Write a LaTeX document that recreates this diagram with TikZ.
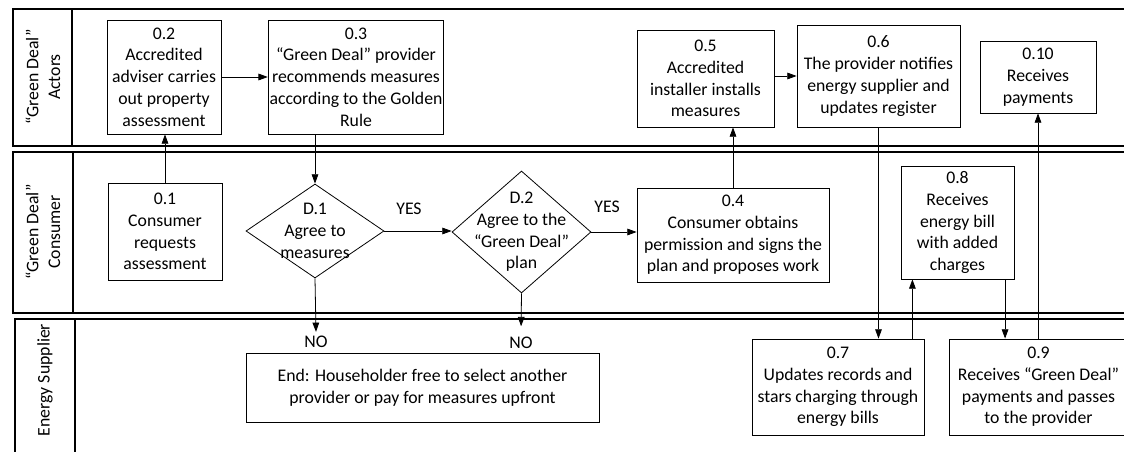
\documentclass[tikz,border=0pt]{standalone}
\usepackage{fontspec}
\setmainfont{Carlito}
\usetikzlibrary{shapes.geometric,arrows.meta}

\tikzset{
  lane/.style={line width=1.2pt},
  box/.style={draw, line width=0.6pt, align=center, inner sep=1pt},
  decision/.style={draw, diamond, line width=0.6pt, inner sep=0pt},
  flow/.style={->, line width=0.6pt},
}

\begin{document}
\begin{tikzpicture}[x=0.75pt, y=-0.75pt, >={Triangle[length=7pt,width=5pt]},
    every node/.append style={font=\fontsize{13.3}{16.3}\selectfont}]
    \useasboundingbox (0,0) rectangle (1124,452);

    % swimlanes
    \draw[lane] (13,9) rectangle (1140,146) (72,9) -- (72,146);
    \draw[lane] (13,152) rectangle (1140,313) (73,152) -- (73,313);
    \draw[lane] (15,319) rectangle (1140,470) (75,319) -- (75,470);
    \node[rotate=90, align=center] (actors) at (43,77) {“Green Deal”\\Actors};
    \node[rotate=90, align=center] (consumer) at (43,232) {“Green Deal”\\Consumer};
    \node[rotate=90] (supplier) at (45,380) {Energy Supplier};

    % steps
    \node[box, minimum width=85.5pt, minimum height=72.75pt] (n01) at (165,231.5) {0.1\\Consumer\\requests\\assessment};
    \node[box, minimum width=85.5pt, minimum height=85.5pt] (n02) at (164,77) {0.2\\Accredited\\adviser carries\\out property\\assessment};
    \node[box, minimum width=130.5pt, minimum height=85.5pt] (n03) at (356,77) {0.3\\“Green Deal” provider\\recommends measures\\according to the Golden\\Rule};
    \node[decision, minimum width=103.5pt, minimum height=70.5pt,
      label={[align=center]center:{D.1\\Agree to\\measures}}] (d1) at (315,231) {};
    \node[decision, minimum width=104.25pt, minimum height=91.5pt,
      label={[align=center]center:{D.2\\Agree to the\\“Green Deal”\\plan}}] (d2) at (521.5,232) {};
    \node[box, minimum width=144pt, minimum height=70.5pt] (n04) at (733,235) {0.4\\Consumer obtains\\permission and signs the\\plan and proposes work};
    \node[box, minimum width=102.75pt, minimum height=72.75pt] (n05) at (705.5,78.5) {0.5\\Accredited\\installer installs\\measures};
    \node[box, minimum width=122.25pt, minimum height=76.5pt] (n06) at (878.5,76) {0.6\\The provider notifies\\energy supplier and\\updates register};
    \node[box, minimum width=129pt, minimum height=72pt] (n07) at (838,387) {0.7\\Updates records and\\stars charging through\\energy bills};
    \node[box, minimum width=84.75pt, minimum height=84.75pt] (n08) at (957.5,222.5) {0.8\\Receives\\energy bill\\with added\\charges};
    \node[box, minimum width=134.25pt, minimum height=72pt] (n09) at (1038.5,387) {0.9\\Receives “Green Deal”\\payments and passes\\to the provider};
    \node[box, minimum width=87pt, minimum height=54pt] (n10) at (1038,77) {0.10\\Receives\\payments};
    \node[box, minimum width=264.75pt, minimum height=51.75pt] (fin) at (422.5,387.5) {End: Householder free to select another\\provider or pay for measures upfront};

    % answers
    \node (yes1) at (409,209) {YES};
    \node (yes2) at (607,207) {YES};
    \node[inner sep=3pt] (no1) at (316,342) {NO};
    \node[inner sep=3pt] (no2) at (521,343) {NO};

    % connectors
    \draw[flow] (n01.north) -- (n01.north |- n02.south);
    \draw[flow] (n02) -- (n03);
    \draw[flow] (d1.north |- n03.south) -- (d1.north);
    \draw[flow] (d1.east) -- (d1.east -| d2.west);
    \draw[flow] (d1.south) -- (no1.north);
    \draw[flow, shorten >=5pt] (d2.south) -- (no2.north);
    \draw[flow] (d2.east) -- (d2.east -| n04.west);
    \draw[flow] (n04.north) -- (n04.north |- n05.south);
    \draw[flow] (n05.east |- n06.west) -- (n06.west);
    \draw[flow] (n06.south) -- (n06.south |- n07.north);
    \draw[flow] ([xshift=-9pt]n07.north east) -- ([xshift=-9pt]n07.north east |- n08.south);
    \draw[flow] ([xshift=-7pt]n08.south east) -- ([xshift=-7pt]n08.south east |- n09.north);
    \draw[flow] (n10.south |- n09.north) -- (n10.south);
\end{tikzpicture}
\end{document}
